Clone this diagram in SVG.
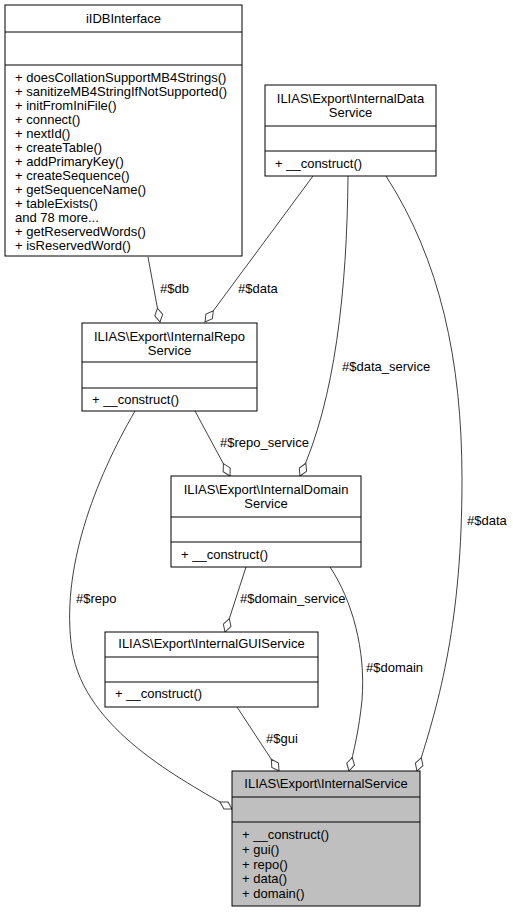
<svg xmlns="http://www.w3.org/2000/svg" width="513" height="912" viewBox="0 0 513 912">
<style>
text{font-family:"Liberation Sans",Arial,Helvetica,sans-serif;font-size:13px;fill:#000}
.t{text-anchor:middle}
.box{fill:#fff;stroke:#000;stroke-width:1}
.main{fill:#bfbfbf;stroke:#000;stroke-width:1}
.div{stroke:#000;stroke-width:1}
.e{fill:none;stroke:#404040;stroke-width:1;marker-end:url(#od)}
</style>
<defs>
<marker id="od" markerUnits="userSpaceOnUse" markerWidth="16" markerHeight="10" viewBox="-1 -1 16 10" refX="14" refY="4" orient="auto">
<path d="M0,4 L7,0 L14,4 L7,8 Z" fill="#fff" stroke="#404040" stroke-width="1"/>
</marker>
</defs>
<rect width="513" height="912" fill="#fff"/>
<g id="connectors">
<path class="e" d="M148,257 L160,322"/>
<text x="160" y="292.5">#$db</text>
<path class="e" d="M313,176 L205,322"/>
<text x="238" y="292.5">#$data</text>
<path class="e" d="M348,176 C347,290 335,400 300,476"/>
<text x="342" y="370.5">#$data_service</text>
<path class="e" d="M386,176 C440,260 462,360 462,480 C462,620 440,700 417,771"/>
<text x="467" y="524.5">#$data</text>
<path class="e" d="M195,411 L230,476"/>
<text x="220" y="446.5">#$repo_service</text>
<path class="e" d="M135,411 C95,480 60,570 72,650 C85,730 181,779 232,809"/>
<text x="76" y="602.5">#$repo</text>
<path class="e" d="M246,567 L225,632"/>
<text x="240" y="602.5">#$domain_service</text>
<path class="e" d="M330,567 C352,600 366,650 362,700 C359,730 354,750 349,771"/>
<text x="366" y="672">#$domain</text>
<path class="e" d="M237,707 L279,771"/>
<text x="266" y="742.5">#$gui</text>
</g>
<g id="iIDBInterface">
<rect class="box" x="5" y="5" width="237" height="251"/>
<line class="div" x1="5" y1="32" x2="242" y2="32"/>
<line class="div" x1="5" y1="65" x2="242" y2="65"/>
<text class="t" x="123.5" y="23">iIDBInterface</text>
<text x="15" y="81.7">+ doesCollationSupportMB4Strings()</text>
<text x="15" y="95.7">+ sanitizeMB4StringIfNotSupported()</text>
<text x="15" y="109.7">+ initFromIniFile()</text>
<text x="15" y="123.7">+ connect()</text>
<text x="15" y="137.7">+ nextId()</text>
<text x="15" y="151.7">+ createTable()</text>
<text x="15" y="165.7">+ addPrimaryKey()</text>
<text x="15" y="179.7">+ createSequence()</text>
<text x="15" y="193.7">+ getSequenceName()</text>
<text x="15" y="207.7">+ tableExists()</text>
<text x="15" y="221.7">and 78 more...</text>
<text x="15" y="235.7">+ getReservedWords()</text>
<text x="15" y="249.7">+ isReservedWord()</text>
</g>
<g id="InternalDataService">
<rect class="box" x="265" y="85" width="171" height="91"/>
<line class="div" x1="265" y1="126" x2="436" y2="126"/>
<line class="div" x1="265" y1="151" x2="436" y2="151"/>
<text class="t" x="350.5" y="102.5">ILIAS\Export\InternalData</text>
<text class="t" x="350.5" y="116.5">Service</text>
<text x="275" y="168">+ __construct()</text>
</g>
<g id="InternalRepoService">
<rect class="box" x="82" y="323" width="175" height="88"/>
<line class="div" x1="82" y1="362" x2="257" y2="362"/>
<line class="div" x1="82" y1="388" x2="257" y2="388"/>
<text class="t" x="169.5" y="340.5">ILIAS\Export\InternalRepo</text>
<text class="t" x="169.5" y="354.5">Service</text>
<text x="92" y="404">+ __construct()</text>
</g>
<g id="InternalDomainService">
<rect class="box" x="171" y="476" width="190" height="91"/>
<line class="div" x1="171" y1="517" x2="361" y2="517"/>
<line class="div" x1="171" y1="542" x2="361" y2="542"/>
<text class="t" x="266" y="493.5">ILIAS\Export\InternalDomain</text>
<text class="t" x="266" y="507.5">Service</text>
<text x="181" y="559">+ __construct()</text>
</g>
<g id="InternalGUIService">
<rect class="box" x="105" y="632" width="213" height="75"/>
<line class="div" x1="105" y1="657" x2="318" y2="657"/>
<line class="div" x1="105" y1="682" x2="318" y2="682"/>
<text class="t" x="211.5" y="648">ILIAS\Export\InternalGUIService</text>
<text x="115" y="698">+ __construct()</text>
</g>
<g id="InternalService">
<rect class="main" x="232" y="771" width="188" height="135"/>
<line class="div" x1="232" y1="797" x2="420" y2="797"/>
<line class="div" x1="232" y1="822" x2="420" y2="822"/>
<text class="t" x="326" y="788">ILIAS\Export\InternalService</text>
<text x="242" y="839">+ __construct()</text>
<text x="242" y="853.8">+ gui()</text>
<text x="242" y="868.6">+ repo()</text>
<text x="242" y="883.4">+ data()</text>
<text x="242" y="898.2">+ domain()</text>
</g>
</svg>
